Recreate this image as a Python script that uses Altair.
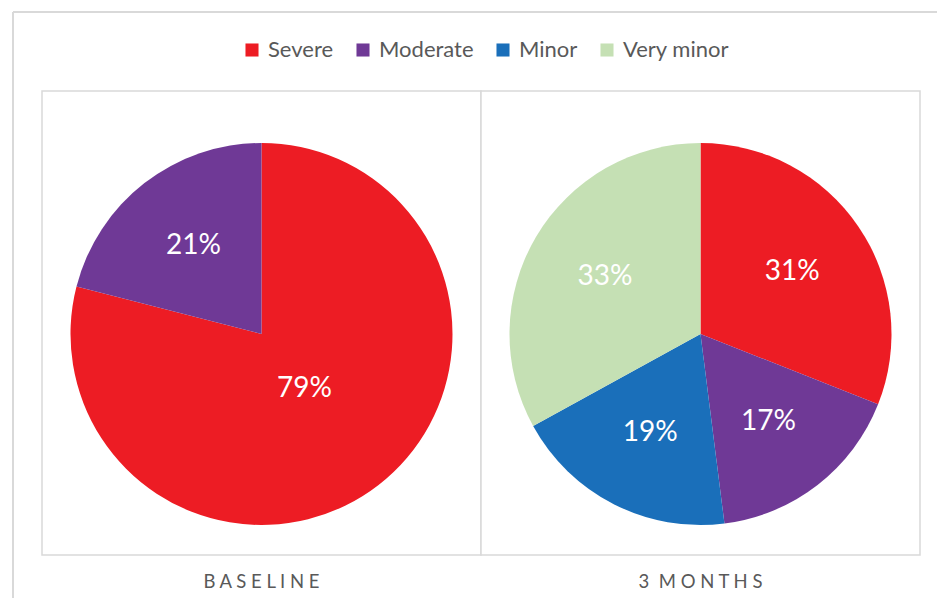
import altair as alt
import pandas as pd

periods = ["BASELINE", "3 MONTHS"]
period_labels = ["B A S E L I N E", "3\u00a0 M O N T H S"]
categories = ["Severe", "Moderate", "Minor", "Very minor"]
colors = ["#ED1C24", "#6F3996", "#1A6FBA", "#C5E0B4"]
baseline_pct = [79, 21, 0, 0]
month3_pct = [31, 17, 19, 33]

rows = []
for period, vals in zip(periods, [baseline_pct, month3_pct]):
    for i, (cat, v) in enumerate(zip(categories, vals)):
        if v > 0:
            rows.append({"period": period, "category": cat, "order": i, "pct": v})
df = pd.DataFrame(rows)
panels = pd.DataFrame({"period": periods, "label": period_labels})
frame = pd.DataFrame({"k": [0]})

FONT = "Lato"
GRID = "#d9d9d9"
TXT = "#595959"

xscale = alt.Scale(type="band", domain=periods, range=[34, 912], paddingInner=0, paddingOuter=0)
thscale = alt.Scale(domain=[0, 100], range=[0, 6.283185307179586])
X = alt.X("period:N", scale=xscale, axis=None, bandPosition=0.5)

outer_top = alt.Chart(frame).mark_rule(color=GRID, strokeWidth=2).encode(
    x=alt.value(5), x2=alt.value(929), y=alt.value(4))
outer_left = alt.Chart(frame).mark_rule(color=GRID, strokeWidth=2).encode(
    x=alt.value(5), y=alt.value(4), y2=alt.value(590))

panel_rects = alt.Chart(panels).mark_rect(fill="white", stroke=GRID, strokeWidth=1.5).encode(
    x=alt.X("period:N", scale=xscale, axis=None),
    y=alt.value(83), y2=alt.value(547))

base = alt.Chart(df).transform_window(
    cum="sum(pct)", groupby=["period"], sort=[alt.SortField("order")]
).transform_calculate(
    start="datum.cum - datum.pct",
    mid="datum.cum - datum.pct / 2",
    lr="datum.pct > 50 ? 70 : 111",
    txt="datum.pct + '%'",
)

arcs = base.mark_arc(outerRadius=191).encode(
    x=X,
    y=alt.value(326),
    theta=alt.Theta("start:Q", scale=thscale),
    theta2="cum:Q",
    color=alt.Color(
        "category:N",
        scale=alt.Scale(domain=categories, range=colors),
        legend=alt.Legend(
            title=None, orient="none", legendX=233, legendY=31, direction="horizontal",
            symbolType="square", symbolSize=170, symbolStrokeWidth=0, symbolOpacity=1,
            labelFontSize=22, labelColor=TXT, labelFont=FONT, columnPadding=18, labelOffset=5,
        ),
    ),
    order=alt.Order("order:Q"),
)

labels = base.mark_text(font=FONT, fontSize=28, color="white", align="center", baseline="middle").encode(
    x=X,
    y=alt.value(326),
    theta=alt.Theta("mid:Q", scale=thscale),
    radius=alt.Radius("lr:Q", scale=None),
    text="txt:N",
)

period_text = alt.Chart(panels).mark_text(font=FONT, fontSize=18.5, color=TXT, align="center", baseline="middle").encode(
    x=X, y=alt.value(574), text="label:N")

chart = alt.layer(outer_top, outer_left, panel_rects, arcs, labels, period_text).properties(
    width=929, height=590, padding=0, autosize=alt.AutoSizeParams(type="none")
).configure_view(stroke=None)

chart.save("out.html", embed_options={"renderer": "svg", "actions": False})
